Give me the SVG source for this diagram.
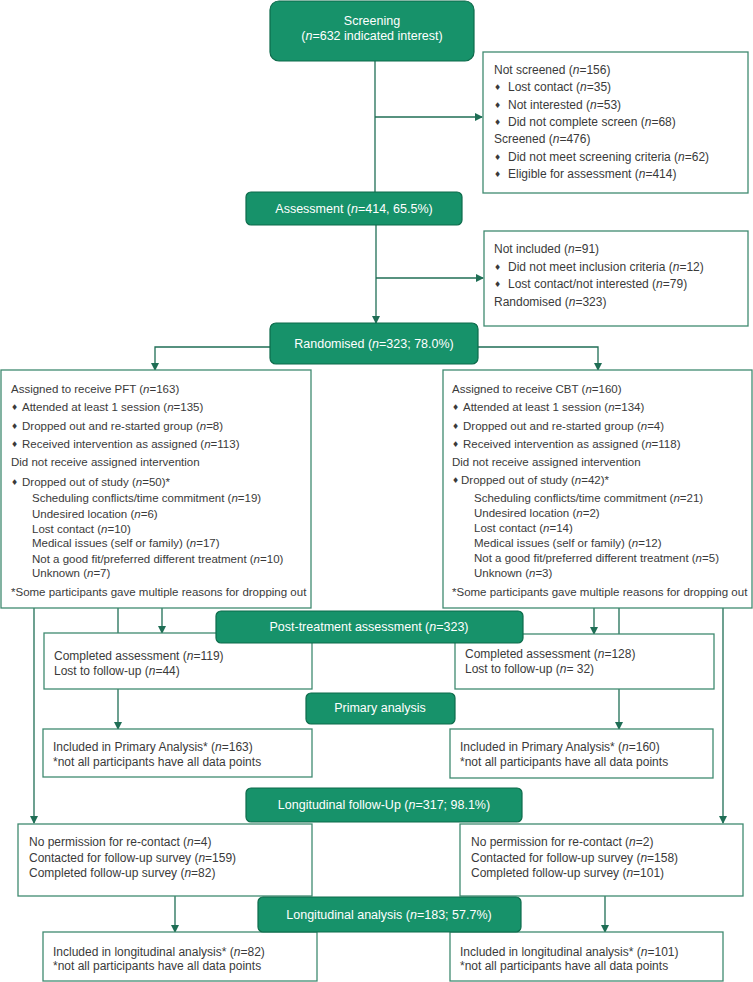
<svg xmlns="http://www.w3.org/2000/svg" width="753" height="982" viewBox="0 0 753 982">
<style>
.g{fill:#17926a;stroke:#0d6b4b;stroke-width:1.2}
.b{fill:#fff;stroke:#3f8a70;stroke-width:1.3}
.wt{font-family:"Liberation Sans",Arial,sans-serif;font-size:12.5px;fill:#fff;text-anchor:middle}
.t{font-family:"Liberation Sans",Arial,sans-serif;font-size:12px;fill:#3a3a3a}
.s{font-family:"Liberation Sans",Arial,sans-serif;font-size:11.5px;fill:#3a3a3a}
.d{font-family:"DejaVu Sans",sans-serif;font-size:8px;fill:#3a3a3a}
.c{fill:none;stroke:#1f6e55;stroke-width:1.3}
i,.i{font-style:italic}
</style>
<defs>
<marker id="ar" markerWidth="8" markerHeight="8" refX="7" refY="4" orient="auto" markerUnits="userSpaceOnUse">
<path d="M0,0 L8,4 L0,8 Z" fill="#1f6e55"/>
</marker>
</defs>

<g id="connectors">
<path class="c" d="M375,61 V192"/>
<path class="c" d="M375,117 H482" marker-end="url(#ar)"/>
<path class="c" d="M376,225 V323" marker-end="url(#ar)"/>
<path class="c" d="M376,278 H483" marker-end="url(#ar)"/>
<path class="c" d="M270,347 H155 V370" marker-end="url(#ar)"/>
<path class="c" d="M478,347 H598 V370" marker-end="url(#ar)"/>
<path class="c" d="M34,608 V823" marker-end="url(#ar)"/>
<path class="c" d="M118,608 V633"/>
<path class="c" d="M162,608 V633" marker-end="url(#ar)"/>
<path class="c" d="M594,608 V634" marker-end="url(#ar)"/>
<path class="c" d="M619,608 V634"/>
<path class="c" d="M723,608 V823" marker-end="url(#ar)"/>
<path class="c" d="M118,689 V729" marker-end="url(#ar)"/>
<path class="c" d="M619,689 V729" marker-end="url(#ar)"/>
<path class="c" d="M175,896 V932" marker-end="url(#ar)"/>
<path class="c" d="M605,896 V932" marker-end="url(#ar)"/>
</g>

<g id="not-screened">
<rect class="b" x="483" y="52" width="265" height="141"/>
<text class="t" x="494" y="74">Not screened (<tspan class="i">n</tspan>=156)</text>
<text class="d" x="494" y="90">♦</text><text class="t" x="508" y="91">Lost contact (<tspan class="i">n</tspan>=35)</text>
<text class="d" x="494" y="108">♦</text><text class="t" x="508" y="109">Not interested (<tspan class="i">n</tspan>=53)</text>
<text class="d" x="494" y="125">♦</text><text class="t" x="508" y="126">Did not complete screen (<tspan class="i">n</tspan>=68)</text>
<text class="t" x="494" y="143">Screened (<tspan class="i">n</tspan>=476)</text>
<text class="d" x="494" y="160">♦</text><text class="t" x="508" y="161">Did not meet screening criteria (<tspan class="i">n</tspan>=62)</text>
<text class="d" x="494" y="177">♦</text><text class="t" x="508" y="178">Eligible for assessment (<tspan class="i">n</tspan>=414)</text>
</g>

<g id="not-included">
<rect class="b" x="484" y="231" width="264" height="95"/>
<text class="t" x="494" y="253">Not included (<tspan class="i">n</tspan>=91)</text>
<text class="d" x="494" y="270">♦</text><text class="t" x="508" y="271">Did not meet inclusion criteria (<tspan class="i">n</tspan>=12)</text>
<text class="d" x="494" y="287">♦</text><text class="t" x="508" y="288">Lost contact/not interested (<tspan class="i">n</tspan>=79)</text>
<text class="t" x="494" y="306">Randomised (<tspan class="i">n</tspan>=323)</text>
</g>

<g id="pft-arm">
<rect class="b" x="1" y="370" width="310" height="238"/>
<text class="s" x="11" y="393">Assigned to receive PFT (<tspan class="i">n</tspan>=163)</text>
<text class="d" x="11" y="410">♦</text><text class="s" x="22" y="411">Attended at least 1 session (<tspan class="i">n</tspan>=135)</text>
<text class="d" x="11" y="429">♦</text><text class="s" x="22" y="430">Dropped out and re-started group (<tspan class="i">n</tspan>=8)</text>
<text class="d" x="11" y="447">♦</text><text class="s" x="22" y="448">Received intervention as assigned (<tspan class="i">n</tspan>=113)</text>
<text class="s" x="11" y="466">Did not receive assigned intervention</text>
<text class="d" x="11" y="485">♦</text><text class="s" x="22" y="486">Dropped out of study (<tspan class="i">n</tspan>=50)*</text>
<text class="s" x="32" y="502">Scheduling conflicts/time commitment (<tspan class="i">n</tspan>=19)</text>
<text class="s" x="32" y="518">Undesired location (<tspan class="i">n</tspan>=6)</text>
<text class="s" x="32" y="533">Lost contact (<tspan class="i">n</tspan>=10)</text>
<text class="s" x="32" y="547">Medical issues (self or family) (<tspan class="i">n</tspan>=17)</text>
<text class="s" x="32" y="563">Not a good fit/preferred different treatment (<tspan class="i">n</tspan>=10)</text>
<text class="s" x="32" y="577">Unknown (<tspan class="i">n</tspan>=7)</text>
<text class="s" x="11" y="596">*Some participants gave multiple reasons for dropping out</text>
</g>

<g id="cbt-arm">
<rect class="b" x="443" y="370" width="309" height="238"/>
<text class="s" x="452" y="393">Assigned to receive CBT (<tspan class="i">n</tspan>=160)</text>
<text class="d" x="452" y="410">♦</text><text class="s" x="463" y="411">Attended at least 1 session (<tspan class="i">n</tspan>=134)</text>
<text class="d" x="452" y="429">♦</text><text class="s" x="463" y="430">Dropped out and re-started group (<tspan class="i">n</tspan>=4)</text>
<text class="d" x="452" y="447">♦</text><text class="s" x="463" y="448">Received intervention as assigned (<tspan class="i">n</tspan>=118)</text>
<text class="s" x="452" y="466">Did not receive assigned intervention</text>
<text class="d" x="452" y="483">♦</text><text class="s" x="461" y="484">Dropped out of study (<tspan class="i">n</tspan>=42)*</text>
<text class="s" x="474" y="502">Scheduling conflicts/time commitment (<tspan class="i">n</tspan>=21)</text>
<text class="s" x="474" y="517">Undesired location (<tspan class="i">n</tspan>=2)</text>
<text class="s" x="474" y="532">Lost contact (<tspan class="i">n</tspan>=14)</text>
<text class="s" x="474" y="547">Medical issues (self or family) (<tspan class="i">n</tspan>=12)</text>
<text class="s" x="474" y="562">Not a good fit/preferred different treatment (<tspan class="i">n</tspan>=5)</text>
<text class="s" x="474" y="577">Unknown (<tspan class="i">n</tspan>=3)</text>
<text class="s" x="452" y="596">*Some participants gave multiple reasons for dropping out</text>
</g>

<g id="pft-completed">
<rect class="b" x="44" y="633" width="268" height="56"/>
<text class="t" x="54" y="660">Completed assessment (<tspan class="i">n</tspan>=119)</text>
<text class="t" x="54" y="675">Lost to follow-up (<tspan class="i">n</tspan>=44)</text>
</g>
<g id="cbt-completed">
<rect class="b" x="455" y="634" width="259" height="55"/>
<text class="t" x="465" y="658">Completed assessment (<tspan class="i">n</tspan>=128)</text>
<text class="t" x="465" y="673">Lost to follow-up (<tspan class="i">n</tspan>= 32)</text>
</g>

<g id="pft-primary">
<rect class="b" x="43" y="729" width="269" height="48"/>
<text class="t" x="53" y="751">Included in Primary Analysis* (<tspan class="i">n</tspan>=163)</text>
<text class="t" x="53" y="766">*not all participants have all data points</text>
</g>
<g id="cbt-primary">
<rect class="b" x="450" y="729" width="263" height="49"/>
<text class="t" x="460" y="751">Included in Primary Analysis* (<tspan class="i">n</tspan>=160)</text>
<text class="t" x="460" y="766">*not all participants have all data points</text>
</g>

<g id="pft-followup">
<rect class="b" x="18" y="824" width="294" height="72"/>
<text class="t" x="29" y="846">No permission for re-contact (<tspan class="i">n</tspan>=4)</text>
<text class="t" x="29" y="862">Contacted for follow-up survey (<tspan class="i">n</tspan>=159)</text>
<text class="t" x="29" y="877">Completed follow-up survey (<tspan class="i">n</tspan>=82)</text>
</g>
<g id="cbt-followup">
<rect class="b" x="460" y="824" width="283" height="72"/>
<text class="t" x="471" y="846">No permission for re-contact (<tspan class="i">n</tspan>=2)</text>
<text class="t" x="471" y="862">Contacted for follow-up survey (<tspan class="i">n</tspan>=158)</text>
<text class="t" x="471" y="877">Completed follow-up survey (<tspan class="i">n</tspan>=101)</text>
</g>

<g id="pft-longitudinal">
<rect class="b" x="43" y="932" width="274" height="49"/>
<text class="t" x="53" y="956">Included in longitudinal analysis* (<tspan class="i">n</tspan>=82)</text>
<text class="t" x="53" y="970">*not all participants have all data points</text>
</g>
<g id="cbt-longitudinal">
<rect class="b" x="450" y="932" width="273" height="49"/>
<text class="t" x="460" y="956">Included in longitudinal analysis* (<tspan class="i">n</tspan>=101)</text>
<text class="t" x="460" y="970">*not all participants have all data points</text>
</g>

<g id="screening">
<rect class="g" x="270" y="1" width="204" height="60" rx="9"/>
<text class="wt" x="372" y="25">Screening</text>
<text class="wt" x="372" y="40">(<tspan class="i">n</tspan>=632 indicated interest)</text>
</g>
<g id="assessment">
<rect class="g" x="246" y="192" width="216" height="33" rx="5"/>
<text class="wt" x="354" y="213">Assessment (<tspan class="i">n</tspan>=414, 65.5%)</text>
</g>
<g id="randomised">
<rect class="g" x="270" y="323" width="208" height="41" rx="6"/>
<text class="wt" x="374" y="348">Randomised (<tspan class="i">n</tspan>=323; 78.0%)</text>
</g>
<g id="post-treatment">
<rect class="g" x="216" y="611" width="307" height="32" rx="5"/>
<text class="wt" x="369" y="631">Post-treatment assessment (<tspan class="i">n</tspan>=323)</text>
</g>
<g id="primary-analysis">
<rect class="g" x="306" y="693" width="149" height="31" rx="5"/>
<text class="wt" x="380" y="712">Primary analysis</text>
</g>
<g id="longitudinal-followup">
<rect class="g" x="246" y="788" width="276" height="34" rx="5"/>
<text class="wt" x="384" y="809">Longitudinal follow-Up (<tspan class="i">n</tspan>=317; 98.1%)</text>
</g>
<g id="longitudinal-analysis">
<rect class="g" x="258" y="897" width="263" height="35" rx="5"/>
<text class="wt" x="389" y="919">Longitudinal analysis (<tspan class="i">n</tspan>=183; 57.7%)</text>
</g>
</svg>
